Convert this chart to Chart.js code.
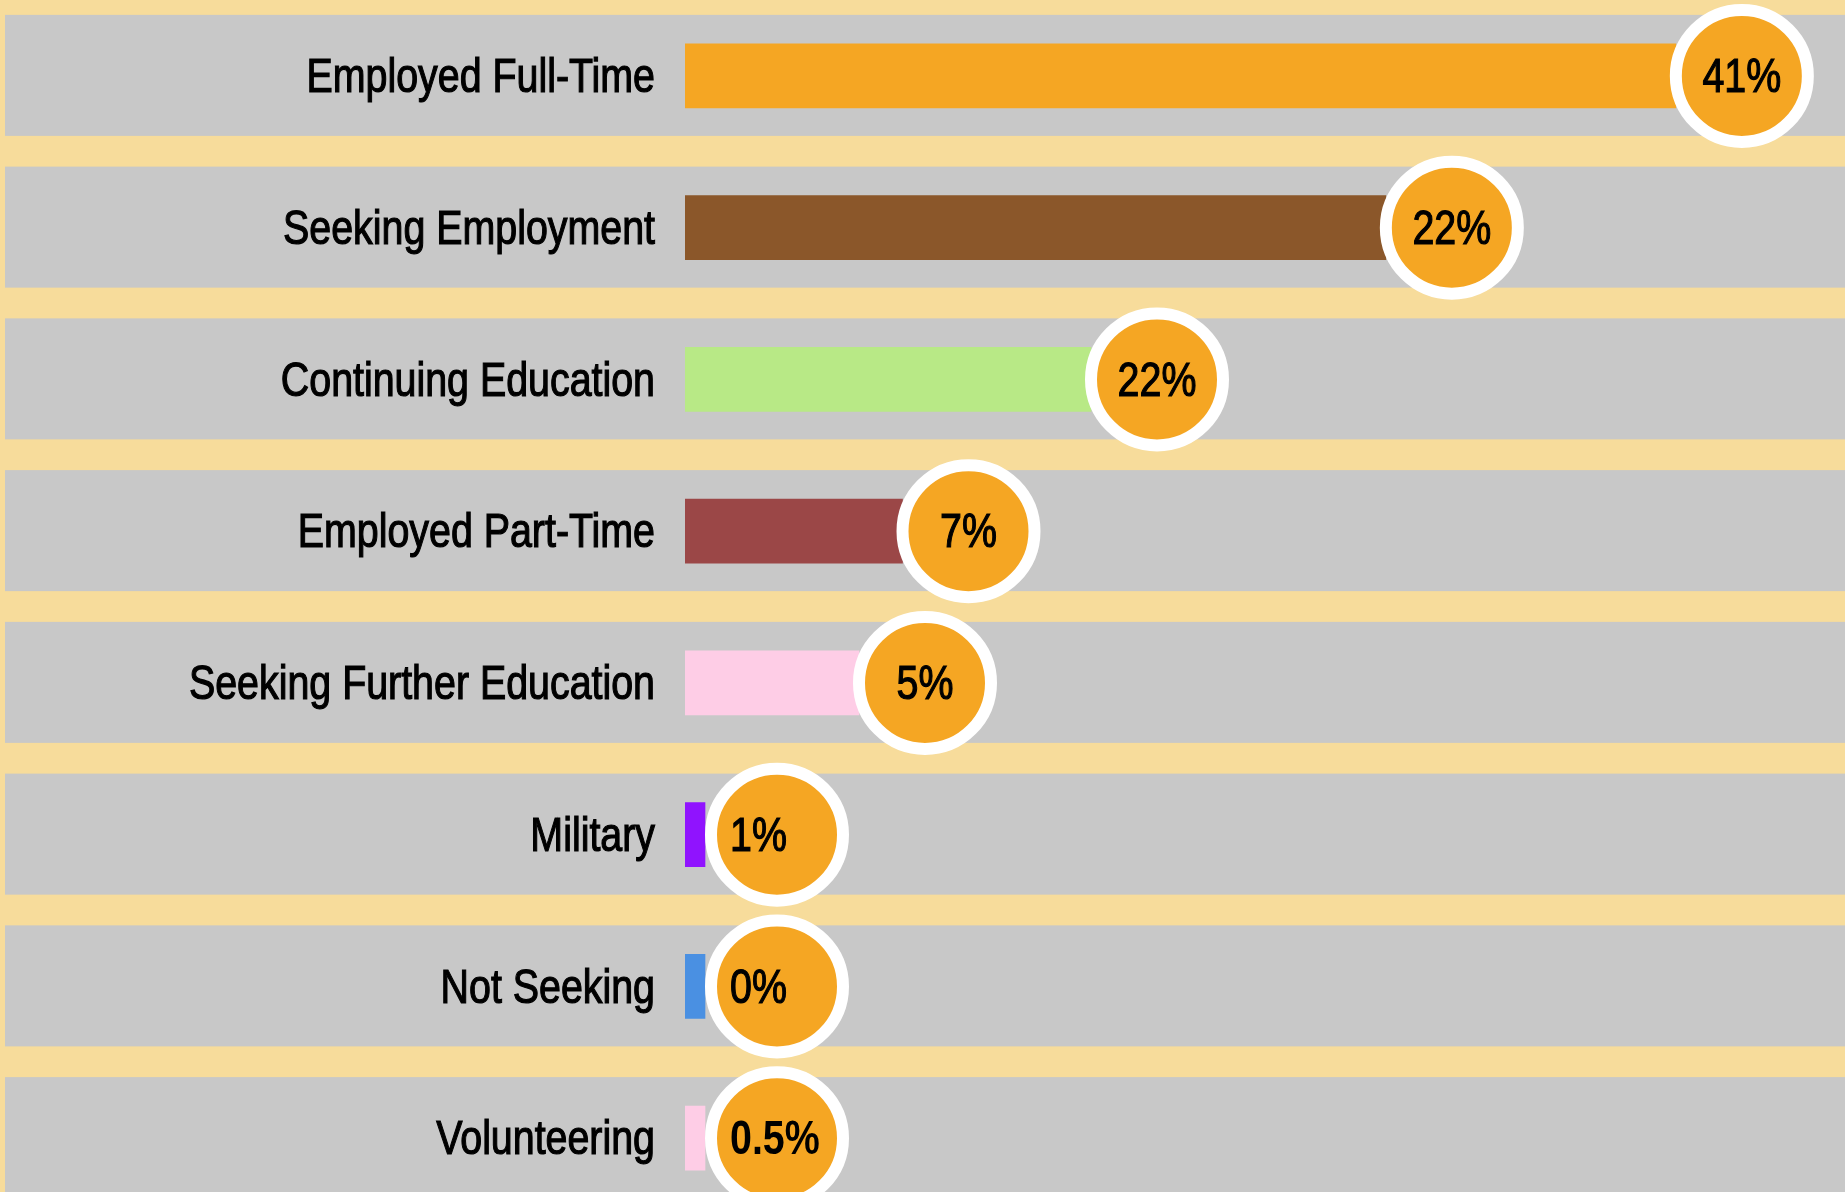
<!DOCTYPE html>
<html>
<head>
<meta charset="utf-8">
<script src="https://cdn.jsdelivr.net/npm/chart.js@4.4.1/dist/chart.umd.min.js"></script>
<style>
  html, body { margin: 0; padding: 0; background: #f7dc9b; overflow: hidden; }
  #wrap { width: 1845px; height: 1192px; overflow: hidden; }
  #box { position: relative; width: 1845px; height: 1214px; }
</style>
</head>
<body>
<div id="wrap"><div id="box"><canvas id="myChart"></canvas></div></div>
<script>
// data block
const categories = [
  "Employed Full-Time",
  "Seeking Employment",
  "Continuing Education",
  "Employed Part-Time",
  "Seeking Further Education",
  "Military",
  "Not Seeking",
  "Volunteering",
];
// bar lengths (axis runs 0..48)
const barValues = [41, 29, 16.8, 9, 7.2, 0.8, 0, 0.5];
// text shown in the orange bubbles
const valueLabels = ["41%", "22%", "22%", "7%", "5%", "1%", "0%", "0.5%"];
const barColors = [
  "#f5a623",
  "#8b572a",
  "#b8e986",
  "#9b4747",
  "#fecde6",
  "#9013fe",
  "#4a90e2",
  "#fecde6",
];

const labelFont = "'Liberation Sans', Arial, sans-serif";

// narrow look: squeeze the text sideways, thicken it a little
function narrowText(ctx, txt, x, y, align, bold) {
  ctx.save();
  ctx.translate(x, y);
  ctx.scale(0.82, 1);
  ctx.font = (bold ? "bold " : "") + "48px " + labelFont;
  ctx.textAlign = align;
  ctx.textBaseline = "middle";
  ctx.fillStyle = "#000";
  ctx.fillText(txt, 0, 0);
  if (!bold) {
    ctx.lineWidth = 1.2;
    ctx.strokeStyle = "#000";
    ctx.strokeText(txt, 0, 0);
  }
  ctx.restore();
}

// grey row bands behind labels + bars, and the row labels
const rowBands = {
  id: "rowBands",
  beforeDraw: (chart) => {
    const { ctx, width, chartArea: { left }, scales: { y } } = chart;
    ctx.save();
    ctx.fillStyle = "#c8c8c8";
    categories.forEach((c, i) => {
      const cy = y.getPixelForValue(i);
      ctx.fillRect(5, cy - 61, width - 5, 121);
    });
    categories.forEach((c, i) => {
      narrowText(ctx, c, left - 30, y.getPixelForValue(i) + 3, "right", false);
    });
    ctx.restore();
  },
};

// orange bubble with white ring at the end of each bar
const bubbles = {
  id: "bubbles",
  afterDatasetsDraw: (chart) => {
    const { ctx, chartArea: { left } } = chart;
    const meta = chart.getDatasetMeta(0);
    ctx.save();
    meta.data.forEach((bar, i) => {
      // stub bars (at minBarLength) get the bubble a bit further out, text left-set
      const stub = bar.x - left <= 21;
      const cx = bar.x + (stub ? 72 : 66);
      const cy = bar.y;
      ctx.beginPath();
      ctx.arc(cx, cy, 66, 0, Math.PI * 2);
      ctx.fillStyle = "#f5a623";
      ctx.fill();
      ctx.lineWidth = 12;
      ctx.strokeStyle = "#ffffff";
      ctx.stroke();
      const txt = valueLabels[i];
      if (stub) {
        narrowText(ctx, txt, cx - 47, cy + 3, "left", txt.includes("."));
      } else {
        narrowText(ctx, txt, cx, cy + 3, "center", txt.includes("."));
      }
    });
    ctx.restore();
  },
};

const config = {
  type: "bar",
  data: {
    labels: categories,
    datasets: [
      {
        data: barValues,
        backgroundColor: barColors,
        borderWidth: 0,
        barThickness: 64,
        minBarLength: 20,
      },
    ],
  },
  options: {
    indexAxis: "y",
    responsive: true,
    maintainAspectRatio: false,
    animation: false,
    layout: { padding: 0 },
    plugins: {
      legend: { display: false },
      tooltip: { enabled: false },
    },
    scales: {
      x: { min: 0, max: 48, display: false },
      y: {
        grid: { display: false, drawTicks: false },
        border: { display: false },
        ticks: { display: false },
        afterFit: (scale) => {
          scale.width = 685;
        },
      },
    },
  },
  plugins: [rowBands, bubbles],
};

const myChart = new Chart(document.getElementById("myChart"), config);
</script>
</body>
</html>
